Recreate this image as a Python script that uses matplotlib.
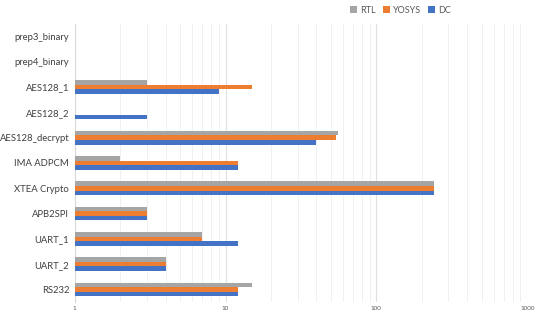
import numpy as np
import matplotlib
matplotlib.use('Agg')
import matplotlib.pyplot as plt
from matplotlib.ticker import LogLocator, FixedLocator, NullFormatter

categories = ['prep3_binary', 'prep4_binary', 'AES128_1', 'AES128_2', 'AES128_decrypt',
              'IMA ADPCM', 'XTEA Crypto', 'APB2SPI', 'UART_1', 'UART_2', 'RS232']
nan = np.nan
rtl = [nan, nan, 3, nan, 56, 2, 240, 3, 7, 4, 15]
yosys = [nan, nan, 15, nan, 54, 12, 240, 3, 7, 4, 12]
dc = [nan, nan, 9, 3, 40, 12, 240, 3, 12, 4, 12]

colors = {'RTL': '#A5A5A5', 'YOSYS': '#ED7D31', 'DC': '#4472C4'}

plt.rcParams['font.family'] = ['Lato', 'DejaVu Sans']
fig = plt.figure(figsize=(5.38, 3.14), dpi=100)
ax = fig.add_axes([0.139, 0.038, 0.841, 0.886])

y = np.arange(len(categories))
h = 0.18
for off, (name, vals) in zip([-h, 0, h], [('RTL', rtl), ('YOSYS', yosys), ('DC', dc)]):
    ax.barh(y + off, vals, height=h, color=colors[name], label=name, zorder=3)

ax.set_xscale('log')
ax.set_xlim(1, 1000)
ax.set_ylim(len(categories) - 0.5, -0.5)
ax.set_yticks(y)
ax.set_yticklabels(categories, fontsize=6.8, color='#404040')
ax.xaxis.set_major_locator(FixedLocator([1, 10, 100, 1000]))
ax.set_xticklabels(['1', '10', '100', '1000'], fontsize=4.5, color='#595959')
ax.xaxis.set_minor_locator(LogLocator(base=10, subs=np.arange(2, 10)))
ax.xaxis.set_minor_formatter(NullFormatter())
ax.grid(True, which='major', axis='x', color='#E0E0E0', linewidth=0.8, zorder=0)
ax.grid(True, which='minor', axis='x', color='#F0F0F0', linewidth=0.7, zorder=0)
ax.tick_params(axis='y', which='both', length=0, pad=4)
ax.tick_params(axis='x', which='both', length=0, pad=3)
for s in ['top', 'right', 'bottom']:
    ax.spines[s].set_visible(False)
ax.spines['left'].set_color('#D9D9D9')

ax.legend(loc='lower left', bbox_to_anchor=(0.6, 1.02), ncol=3, frameon=False,
          fontsize=6.5, handlelength=0.8, handleheight=0.8, columnspacing=0.8,
          handletextpad=0.3, borderaxespad=0, labelcolor='#595959')

fig.savefig('out.png', dpi=100)
